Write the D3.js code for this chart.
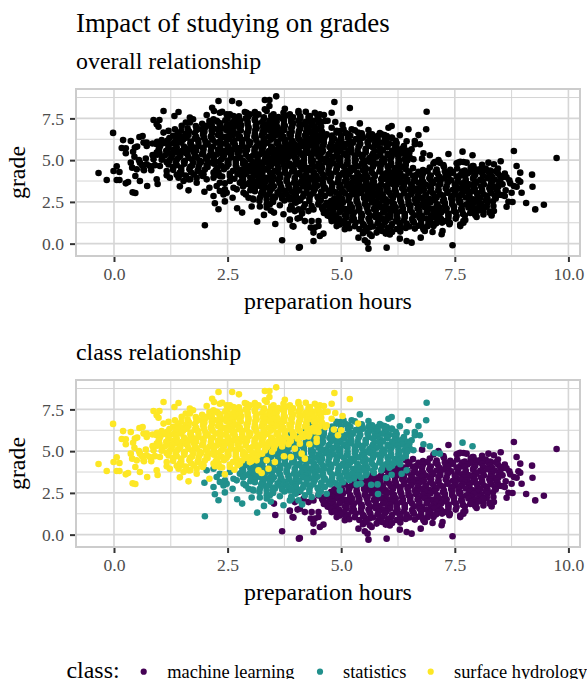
<!DOCTYPE html>
<html>
<head>
<meta charset="utf-8">
<script src="https://d3js.org/d3.v7.min.js"></script>
<style>
  html, body { margin: 0; padding: 0; background: #fff; overflow: hidden; }
  svg { display: block; font-family: "Liberation Serif", serif; }
</style>
</head>
<body>
<svg id="chart" width="587" height="679"></svg>
<script>
const classNames = ['machine learning', 'statistics', 'surface hydrology'];
const classColors = ['#440154', '#21908C', '#FDE725'];
const hourTicks = [0, 2.5, 5, 7.5, 10];
const gradeTicks = [0, 2.5, 5, 7.5];
const hourMinor = [1.25, 3.75, 6.25, 8.75];
const gradeMinor = [1.25, 3.75, 6.25, 8.75];

// [preparation hours, grade], dense middles estimated
const machineLearning = [
  [9.74,5.13],[8.8,5.55],[8.51,4.93],[8.24,4.85],[8.36,4.75],[8.86,4.65],[8.94,4.25],[9.2,4.13],[9.21,3.41],[9.07,2.43],[9.27,2.05],[9.46,2.33],
  [8.9,3.79],[8.8,3.45],[8.97,3.05],[8.75,3.05],[8.6,2.85],[8.77,2.49],[8.64,2.21],[8.35,2.25],[8.31,1.69],[8.13,1.75],[8.36,1.95],[7.36,5.37],
  [6.78,5.09],[7.89,4.65],[7.58,4.85],[7.69,4.89],[7.45,-0.1],[6.75,.36],[6.55,.06],[6.44,.16],[6.29,.3],[6,-.24],[5.6,-.3],[5.58,.06],[5.52,.2],
  [5.38,.36],[5.67,.46],[4.09,-.2],[4.39,.16],[4.61,.6],[4.53,.46],[4.39,.66],[4.33,.96],[4.5,1.35],[4.35,1.35],[7.21,.56],[7.23,.76],[7.01,.7],
  [6.84,.76],[3.93,1.06],[4.2,1.35],[3.7,.2],[4.07,-.24],[3.55,1.18],[3.52,1.86],[3.87,1.42],[3.95,1.02],[4.04,1.5],[4.06,2.55],[7.38,1.16],
  [7.69,1.25],[7.62,1.05],[7.98,1.6],[8.6,4.2],[8.7,3.8],[8.55,3.55],[8.62,3.2],[8.45,4.5],[8.1,4.72],[7.95,4.45],
  [4.42,.96],[4.5,1.06],[4.75,1.65],[4.79,1.35],[4.9,1.05],[5.08,.86],[4.97,1.15],[4.6,2.05],[4.17,2.15],[4.09,1.55],[4.28,1.95],[3.87,1.45],[3.98,1.95],[4.5,2.35],[4.39,2.05],[4.68,1.85],
  [6.07,.55],[6,.66],[5.63,.56],[5.52,.76],[6.29,.86],[6.44,1.06],[6.81,.86],[7.03,1.06],[7.1,1.25],[7.39,1.25],[7.69,1.35],[7.62,1.15],[7.94,1.85],[8.13,1.95],[8.27,1.85],
  [8.42,3.21],[8.53,2.91],[8.57,4],[8.64,3.97],[8.26,4.1],[8.05,4.45],[8.17,4.41],[8.28,4.37],[7.91,4.65],[7.76,4.85],[7.54,4.81],[7.39,4.31],[7.62,4.9],[7.14,5],[7.03,4.8],[7.25,4.7],
  [8.31,3.8],[8.35,3.41],[8.72,3.61],[8.86,3.41],[8.94,3.71],[8.57,2.91],[8.68,2.51],[8.2,2.21],[8.27,1.92],[7.95,1.72],[7.73,1.42],
  [6.42,4.45],[6.58,4.52],[6.8,4.4],[6.95,4.56],[7.1,4.44],[7.26,4.6],[7.4,4.42],[7.55,4.5],[7.72,4.38],[7.85,4.55],[8.02,4.4],[8.18,4.5],
  [6.5,4.32],[6.7,4.3],[6.9,4.34],[7.08,4.3],[7.28,4.33],[7.46,4.29],[7.66,4.32],[7.84,4.3],[8.04,4.34],[8.24,4.3],[8.4,4.33],
  [6.1,4.2],[6.3,4.12],[6.48,4.24],[6.65,4.1],[6.8,4.2],[6.97,4.08],[7.12,4.22],[7.3,4.14],[7.45,4.24],[7.62,4.1],[7.78,4.2],[7.95,4.12],[8.1,4.24],[8.28,4.14],[8.45,4.2],
  [6.22,4.04],[6.4,4.02],[6.58,4.06],[6.78,4],[6.96,4.05],[7.16,4.01],[7.36,4.06],[7.54,4.02],[7.72,4.05],[7.92,4],[8.12,4.06],[8.32,4.01],[8.5,4.04],
  [5.95,3.88],[6.14,3.82],[6.3,3.94],[6.46,3.84],[6.62,3.9],[6.78,3.8],[6.94,3.92],[7.1,3.84],[7.26,3.9],[7.42,3.8],[7.58,3.94],[7.74,3.84],[7.9,3.9],[8.06,3.82],[8.22,3.92],[8.38,3.84],
  [6.04,3.72],[6.24,3.75],[6.42,3.7],[6.6,3.74],[6.8,3.71],[6.98,3.76],[7.18,3.7],[7.36,3.74],[7.56,3.71],[7.74,3.75],[7.94,3.7],[8.12,3.74],[8.32,3.72],[8.5,3.74],
  [5.7,3.62],[5.88,3.56],[6.05,3.64],[6.22,3.54],[6.38,3.62],[6.54,3.56],[6.7,3.64],[6.86,3.54],[7.02,3.62],[7.18,3.56],[7.34,3.64],[7.5,3.54],[7.66,3.62],[7.82,3.56],[7.98,3.64],[8.14,3.54],[8.3,3.62],[8.46,3.52],
  [5.62,3.45],[5.8,3.42],[6,3.46],[6.18,3.43],[6.38,3.47],[6.56,3.42],[6.76,3.46],[6.94,3.43],[7.14,3.47],[7.32,3.42],[7.52,3.46],[7.7,3.43],[7.9,3.47],[8.08,3.42],[8.28,3.46],[8.46,3.42],
  [5.35,3.3],[5.52,3.24],[5.7,3.32],[5.86,3.24],[6.02,3.3],[6.18,3.22],[6.34,3.32],[6.5,3.26],[6.66,3.3],[6.82,3.22],[6.98,3.32],[7.14,3.24],[7.3,3.3],[7.46,3.22],[7.62,3.32],[7.78,3.26],[7.94,3.3],[8.1,3.22],[8.26,3.32],[8.42,3.24],
  [5.24,3.15],[5.44,3.13],[5.62,3.17],[5.82,3.13],[6,3.16],[6.2,3.12],[6.38,3.17],[6.58,3.14],[6.76,3.17],[6.96,3.12],[7.14,3.16],[7.34,3.13],[7.52,3.17],[7.72,3.13],[7.9,3.16],[8.1,3.12],[8.28,3.17],[8.44,3.13],
  [5.08,3.02],[5.25,2.96],[5.42,3.04],[5.58,2.94],[5.74,3.02],[5.9,2.96],[6.06,3.04],[6.22,2.94],[6.38,3.02],[6.54,2.96],[6.7,3.04],[6.86,2.94],[7.02,3.02],[7.18,2.96],[7.34,3.04],[7.5,2.94],[7.66,3.02],[7.82,2.96],[7.98,3.04],[8.14,2.94],[8.3,3.02],[8.45,2.92],
  [4.96,2.87],[5.16,2.85],[5.34,2.89],[5.54,2.84],[5.72,2.88],[5.92,2.85],[6.1,2.89],[6.3,2.84],[6.48,2.88],[6.68,2.85],[6.86,2.89],[7.06,2.84],[7.24,2.88],[7.44,2.85],[7.62,2.89],[7.82,2.84],[8,2.88],[8.2,2.85],[8.38,2.87],
  [4.85,2.72],[5.02,2.68],[5.18,2.76],[5.34,2.66],[5.5,2.74],[5.66,2.68],[5.82,2.76],[5.98,2.66],[6.14,2.74],[6.3,2.68],[6.46,2.76],[6.62,2.66],[6.78,2.74],[6.94,2.68],[7.1,2.76],[7.26,2.66],[7.42,2.74],[7.58,2.68],[7.74,2.76],[7.9,2.66],[8.06,2.74],[8.22,2.68],[8.4,2.7],
  [4.78,2.57],[4.96,2.55],[5.16,2.59],[5.34,2.54],[5.54,2.58],[5.72,2.55],[5.92,2.59],[6.1,2.54],[6.3,2.58],[6.48,2.55],[6.68,2.59],[6.86,2.54],[7.06,2.58],[7.24,2.55],[7.44,2.59],[7.62,2.54],[7.82,2.58],[8,2.55],[8.18,2.58],[8.34,2.54],
  [4.72,2.42],[4.88,2.38],[5.04,2.46],[5.2,2.36],[5.36,2.44],[5.52,2.38],[5.68,2.46],[5.84,2.36],[6,2.44],[6.16,2.38],[6.32,2.46],[6.48,2.36],[6.64,2.44],[6.8,2.38],[6.96,2.46],[7.12,2.36],[7.28,2.44],[7.44,2.38],[7.6,2.46],[7.76,2.36],[7.92,2.44],[8.08,2.38],[8.22,2.46],
  [4.64,2.27],[4.82,2.25],[5,2.29],[5.2,2.24],[5.38,2.28],[5.58,2.25],[5.76,2.29],[5.96,2.24],[6.14,2.28],[6.34,2.25],[6.52,2.29],[6.72,2.24],[6.9,2.28],[7.1,2.25],[7.28,2.29],[7.48,2.24],[7.66,2.28],[7.86,2.25],[8.04,2.28],[8.2,2.24],
  [4.58,2.14],[4.75,2.1],[4.92,2.18],[5.08,2.08],[5.24,2.16],[5.4,2.1],[5.56,2.18],[5.72,2.08],[5.88,2.16],[6.04,2.1],[6.2,2.18],[6.36,2.08],[6.52,2.16],[6.68,2.1],[6.84,2.18],[7,2.08],[7.16,2.16],[7.32,2.1],[7.48,2.18],[7.64,2.08],[7.8,2.16],[7.96,2.1],[8.12,2.14],
  [4.62,1.98],[4.82,1.96],[5,2],[5.2,1.95],[5.38,1.99],[5.58,1.96],[5.76,2],[5.96,1.95],[6.14,1.99],[6.34,1.96],[6.52,2],[6.72,1.95],[6.9,1.99],[7.1,1.96],[7.28,2],[7.48,1.95],[7.66,1.99],[7.86,1.96],[8.02,1.98],
  [4.62,1.84],[4.8,1.8],[4.96,1.88],[5.12,1.78],[5.28,1.86],[5.44,1.8],[5.6,1.88],[5.76,1.78],[5.92,1.86],[6.08,1.8],[6.24,1.88],[6.4,1.78],[6.56,1.86],[6.72,1.8],[6.88,1.88],[7.04,1.78],[7.2,1.86],[7.36,1.8],[7.52,1.88],[7.68,1.78],[7.84,1.84],
  [4.7,1.68],[4.88,1.66],[5.08,1.7],[5.26,1.65],[5.46,1.69],[5.64,1.66],[5.84,1.7],[6.02,1.65],[6.22,1.69],[6.4,1.66],[6.6,1.7],[6.78,1.65],[6.98,1.69],[7.16,1.66],[7.36,1.7],[7.54,1.65],[7.72,1.68],
  [4.78,1.54],[4.95,1.5],[5.12,1.58],[5.28,1.48],[5.44,1.56],[5.6,1.5],[5.76,1.58],[5.92,1.48],[6.08,1.56],[6.24,1.5],[6.4,1.58],[6.56,1.48],[6.72,1.56],[6.88,1.5],[7.04,1.58],[7.2,1.48],[7.36,1.54],[7.52,1.5],
  [4.86,1.38],[5.06,1.36],[5.24,1.4],[5.44,1.35],[5.62,1.39],[5.82,1.36],[6,1.4],[6.2,1.35],[6.38,1.39],[6.58,1.36],[6.76,1.4],[6.96,1.35],[7.14,1.39],[7.3,1.36],
  [4.98,1.24],[5.15,1.2],[5.32,1.26],[5.48,1.18],[5.64,1.26],[5.8,1.2],[5.96,1.26],[6.12,1.18],[6.28,1.24],[6.44,1.2],[6.6,1.26],[6.76,1.18],[6.92,1.24],[7.08,1.2],[7.22,1.26],
  [5.1,1.06],[5.3,1.04],[5.5,1.08],[5.7,1.03],[5.9,1.07],[6.1,1.04],[6.3,1.08],[6.5,1.03],[6.7,1.07],[6.9,1.04],
  [5.18,.92],[5.4,.88],[5.62,.96],[5.82,.86],[6.02,.94],[6.22,.88],[6.42,.94],[6.62,.9],[6.8,.98],
  [5.48,.62],[5.78,.66],[5.98,.6],[6.12,.7],[5.55,.78],[5.9,.76],[6.3,.72]
];

const statistics = [
  [1.99,3.11],[2,1.1],[2.19,2.85],[2.22,2.42],[2.44,2.53],[2.3,2.06],[2.61,2.75],[2.71,2.12],[2.82,1.86],[3.03,2.22],[3.15,1.32],[3.3,1.72],[3.45,1.98],
  [3.21,2.22],[3.73,1.76],[3.9,2.26],[3.36,2.36],[2.41,2.95],[2.48,3.05],[2.55,3.75],[2.19,3.95],[2.33,3.65],[6.88,7.9],[6.87,6.85],[6.48,6.85],[6.7,6.5],
  [6.29,6.49],[6.44,6.13],[6.62,6.15],[6.73,5.95],[6.04,6.94],[6.11,7.04],[5.41,7.2],[5.6,6.8],[7.67,5.51],[7.89,5.29],[6.81,5.41],[6.95,5.29],[7.06,4.89],
  [7.17,4.85],[6.59,5.05],[6.44,3.85],[6.33,3.65],[6.11,3.59],[5.99,3.39],[5.8,3.01],[5.66,2.99],[5.43,3.05],[5.34,3.01],[5.81,2.43],[4.97,2.65],[4.68,2.45],
  [4.35,2.25],[4.14,1.81],[4.2,2.35],[3.91,2.15],[3.05,2.7],[3.2,2.55],[3.5,2.5],[3.65,2.3],[4,2.45],[4.5,2.4],[2.9,2.95],[3,3.2],
  [5.05,6.85],[5.23,6.85],[5.16,6.54],[5.45,6.54],[5.63,6.35],[5.74,6.28],[5.89,6.54],[6,6.45],[6.11,6.35],[6.18,5.95],[6.22,5.75],[6.4,5.55],[6.51,5.15],[6.55,5.65],[6.62,5.95],[6.4,5.05],[6.29,4.65],[6.11,5.25],[4.97,6.74],[4.9,6.65],[4.35,6.65],[4.3,6.74],
  [2.04,3.85],[2.26,3.45],[2.33,3.15],[2.44,3.25],[2.63,3.35],[2.7,3.25],[2.85,3.05],[2.96,2.75],[3.07,2.65],[3.21,2.75],[3.36,2.65],[3.29,3.05],[3.43,2.36],[3.36,2.16],[3.54,2.75],[3.69,2.85],[3.87,2.65],[3.98,2.55],[3.87,2.05],[4.06,2.05],[2.77,3.65],
  [4.9,6.75],[5.1,6.62],[5.3,6.78],[5.45,6.6],[5.68,6.55],[5.85,6.62],[5.95,6.5],
  [4.6,6.45],[4.8,6.47],[5,6.44],[5.2,6.46],[5.4,6.43],[5.6,6.46],[5.8,6.44],[6,6.42],
  [4.45,6.3],[4.62,6.26],[4.8,6.34],[4.98,6.24],[5.15,6.32],[5.32,6.26],[5.48,6.34],[5.64,6.24],[5.8,6.3],[5.96,6.26],[6.12,6.32],
  [4.2,6.15],[4.4,6.13],[4.6,6.17],[4.8,6.13],[5,6.16],[5.2,6.12],[5.4,6.17],[5.6,6.14],[5.8,6.17],[6,6.12],[6.2,6.16],
  [3.9,6.02],[4.1,5.98],[4.28,6.06],[4.46,5.96],[4.62,6.04],[4.78,5.98],[4.94,6.06],[5.1,5.96],[5.26,6.04],[5.42,5.98],[5.58,6.06],[5.74,5.96],[5.9,6.04],[6.06,5.98],[6.22,6.02],
  [3.8,5.87],[4,5.85],[4.2,5.89],[4.4,5.85],[4.6,5.88],[4.8,5.84],[5,5.89],[5.2,5.86],[5.4,5.89],[5.6,5.84],[5.8,5.88],[6,5.85],[6.2,5.89],[6.38,5.85],
  [3.7,5.74],[3.9,5.7],[4.08,5.78],[4.26,5.68],[4.42,5.76],[4.58,5.7],[4.74,5.78],[4.9,5.68],[5.06,5.76],[5.22,5.7],[5.38,5.78],[5.54,5.68],[5.7,5.76],[5.86,5.7],[6.02,5.78],[6.18,5.68],[6.36,5.72],
  [3.64,5.58],[3.84,5.56],[4.02,5.6],[4.22,5.55],[4.4,5.59],[4.6,5.56],[4.78,5.6],[4.98,5.55],[5.16,5.59],[5.36,5.56],[5.54,5.6],[5.74,5.55],[5.92,5.59],[6.12,5.56],[6.3,5.6],[6.46,5.56],
  [3.55,5.44],[3.74,5.4],[3.92,5.48],[4.1,5.38],[4.26,5.46],[4.42,5.4],[4.58,5.48],[4.74,5.38],[4.9,5.46],[5.06,5.4],[5.22,5.48],[5.38,5.38],[5.54,5.46],[5.7,5.4],[5.86,5.48],[6.02,5.38],[6.18,5.46],[6.34,5.4],[6.5,5.44],
  [3.58,5.3],[3.78,5.28],[3.96,5.32],[4.16,5.27],[4.34,5.31],[4.54,5.28],[4.72,5.32],[4.92,5.27],[5.1,5.31],[5.3,5.28],[5.48,5.32],[5.68,5.27],[5.86,5.31],[6.06,5.28],[6.24,5.32],[6.44,5.27],
  [3.5,5.16],[3.68,5.12],[3.85,5.2],[4.02,5.1],[4.18,5.18],[4.34,5.12],[4.5,5.2],[4.66,5.1],[4.82,5.18],[4.98,5.12],[5.14,5.2],[5.3,5.1],[5.46,5.18],[5.62,5.12],[5.78,5.2],[5.94,5.1],[6.1,5.18],[6.26,5.12],[6.42,5.18],
  [3.42,5],[3.62,4.98],[3.8,5.02],[4,4.97],[4.18,5.01],[4.38,4.98],[4.56,5.02],[4.76,4.97],[4.94,5.01],[5.14,4.98],[5.32,5.02],[5.52,4.97],[5.7,5.01],[5.9,4.98],[6.08,5.02],[6.28,4.97],[6.46,5],
  [3.35,4.86],[3.52,4.82],[3.7,4.9],[3.86,4.8],[4.02,4.88],[4.18,4.82],[4.34,4.9],[4.5,4.8],[4.66,4.88],[4.82,4.82],[4.98,4.9],[5.14,4.8],[5.3,4.88],[5.46,4.82],[5.62,4.9],[5.78,4.8],[5.94,4.88],[6.1,4.82],[6.26,4.88],[6.42,4.82],
  [3.22,4.72],[3.42,4.7],[3.6,4.74],[3.8,4.69],[3.98,4.73],[4.18,4.7],[4.36,4.74],[4.56,4.69],[4.74,4.73],[4.94,4.7],[5.12,4.74],[5.32,4.69],[5.5,4.73],[5.7,4.7],[5.88,4.74],[6.08,4.69],[6.26,4.73],[6.42,4.7],
  [3.1,4.58],[3.28,4.54],[3.45,4.62],[3.62,4.52],[3.78,4.6],[3.94,4.54],[4.1,4.62],[4.26,4.52],[4.42,4.6],[4.58,4.54],[4.74,4.62],[4.9,4.52],[5.06,4.6],[5.22,4.54],[5.38,4.62],[5.54,4.52],[5.7,4.6],[5.86,4.54],[6.02,4.62],[6.18,4.52],[6.34,4.58],
  [3,4.42],[3.2,4.4],[3.38,4.44],[3.58,4.39],[3.76,4.43],[3.96,4.4],[4.14,4.44],[4.34,4.39],[4.52,4.43],[4.72,4.4],[4.9,4.44],[5.1,4.39],[5.28,4.43],[5.48,4.4],[5.66,4.44],[5.86,4.39],[6.04,4.43],[6.24,4.4],
  [2.92,4.28],[3.1,4.24],[3.27,4.32],[3.44,4.22],[3.6,4.3],[3.76,4.24],[3.92,4.32],[4.08,4.22],[4.24,4.3],[4.4,4.24],[4.56,4.32],[4.72,4.22],[4.88,4.3],[5.04,4.24],[5.2,4.32],[5.36,4.22],[5.52,4.3],[5.68,4.24],[5.84,4.32],[6,4.22],[6.16,4.28],[6.3,4.22],
  [2.88,4.14],[3.08,4.12],[3.26,4.16],[3.46,4.11],[3.64,4.15],[3.84,4.12],[4.02,4.16],[4.22,4.11],[4.4,4.15],[4.6,4.12],[4.78,4.16],[4.98,4.11],[5.16,4.15],[5.36,4.12],[5.54,4.16],[5.74,4.11],[5.92,4.15],[6.12,4.12],
  [2.82,4],[3,3.96],[3.17,4.04],[3.34,3.94],[3.5,4.02],[3.66,3.96],[3.82,4.04],[3.98,3.94],[4.14,4.02],[4.3,3.96],[4.46,4.04],[4.62,3.94],[4.78,4.02],[4.94,3.96],[5.1,4.04],[5.26,3.94],[5.42,4.02],[5.58,3.96],[5.74,4.04],[5.9,3.94],[6.06,4],
  [2.84,3.85],[3.04,3.83],[3.22,3.87],[3.42,3.82],[3.6,3.86],[3.8,3.83],[3.98,3.87],[4.18,3.82],[4.36,3.86],[4.56,3.83],[4.74,3.87],[4.94,3.82],[5.12,3.86],[5.32,3.83],[5.5,3.87],[5.7,3.82],[5.88,3.85],
  [2.8,3.7],[2.98,3.66],[3.15,3.74],[3.32,3.64],[3.48,3.72],[3.64,3.66],[3.8,3.74],[3.96,3.64],[4.12,3.72],[4.28,3.66],[4.44,3.74],[4.6,3.64],[4.76,3.72],[4.92,3.66],[5.08,3.74],[5.24,3.64],[5.4,3.72],[5.56,3.66],[5.72,3.7],
  [2.9,3.56],[3.08,3.54],[3.28,3.58],[3.46,3.53],[3.66,3.57],[3.84,3.54],[4.04,3.58],[4.22,3.53],[4.42,3.57],[4.6,3.54],[4.8,3.58],[4.98,3.53],[5.18,3.57],[5.36,3.54],[5.54,3.56],
  [2.84,3.42],[3.02,3.38],[3.2,3.46],[3.36,3.36],[3.52,3.44],[3.68,3.38],[3.84,3.46],[4,3.36],[4.16,3.44],[4.32,3.38],[4.48,3.46],[4.64,3.36],[4.8,3.44],[4.96,3.38],[5.12,3.46],[5.28,3.36],[5.44,3.42],
  [3.1,3.28],[3.28,3.26],[3.48,3.3],[3.66,3.25],[3.86,3.29],[4.04,3.26],[4.24,3.3],[4.42,3.25],[4.62,3.29],[4.8,3.26],[5,3.3],[5.18,3.26],
  [3.1,3.14],[3.26,3.1],[3.44,3.18],[3.6,3.08],[3.76,3.16],[3.92,3.1],[4.08,3.18],[4.24,3.08],[4.4,3.16],[4.56,3.1],[4.72,3.18],[4.88,3.08],[5.04,3.14],
  [3.24,3],[3.42,2.98],[3.62,3.02],[3.8,2.97],[4,3.01],[4.18,2.98],[4.38,3.02],[4.56,2.97],[4.76,3],[4.94,2.97],
  [3.35,2.86],[3.52,2.82],[3.68,2.9],[3.84,2.8],[4,2.88],[4.16,2.82],[4.32,2.9],[4.48,2.8],[4.64,2.86],
  [3.5,2.72],[3.7,2.7],[3.9,2.73],[4.1,2.69],[4.3,2.72],[4.5,2.7],
  [3.75,2.58],[4.1,2.62],[4.3,2.56],[4.55,2.6]
];

const surfaceHydrology = [
  [-.34,4.23],[-.16,3.81],[-.02,6.63],[.06,4.63],[-.01,4.35],[.12,4.29],[.06,3.81],[.12,3.81],[.26,3.61],[.31,3.69],[.41,3.07],[.47,3.03],[.57,3.75],[.47,4.05],
  [.73,3.45],[.94,3.85],[.96,3.57],[.2,6.2],[.37,6.15],[.17,5.73],[.26,5.71],[.26,5.41],[.46,5.75],[.51,5.81],[.56,6.39],[.63,6.45],[.65,6.05],[.72,6.05],
  [.37,4.85],[.4,4.55],[.45,5.2],[.55,5],[.62,4.7],[.7,5.1],[.5,4.45],[.66,4.4],[.72,4.75],[.82,4.4],[.9,4.7],[.85,5.3],[.95,6.1],[1.05,6.2],[.85,6],[.42,5.5],
  [2.3,8.54],[2.6,8.54],[2.75,8.4],[3.32,8.6],[3.42,8.6],[3.57,8.82],[3.42,8.24],[3.32,8.04],[3.76,8.08],[4.06,7.94],[1.09,7.94],[1.42,7.88],[1.33,7.64],
  [.87,7.4],[1,7.4],[.94,7.15],[.98,7],[1.67,7.55],[1.74,7.45],[1.58,7.25],[2.04,7.7],[2.16,8.14],[2.2,7.94],[2.38,7.9],[2.55,7.74],[2.88,7.88],[3.1,7.88],
  [4.85,8.48],[5.19,8.12],[4.79,7.84],[4.42,7.84],[4.22,7.9],[4.87,7.28],[5.03,7.1],[5.37,6.65],[5,6.25],[4.84,6.29],[4.93,5.95],[4.65,6.44],[4.2,4.55],[4.13,4.85],
  [4.46,5.55],[4.3,5.41],[2.1,3.35],[2.44,3.61],[2.65,3.89],[3.18,3.85],[3.25,3.69],[3.4,3.95],[1.64,3.19],[1.45,3.43],[1.82,3.65],[1.53,3.75],[1.16,4.09],[3.74,4.69],[3.89,4.65],[3.54,4.35],
  [2.33,7.84],[2.48,7.74],[2.63,7.64],[2.92,7.84],[2.99,7.74],[3.18,7.74],[3.36,7.94],[3.51,7.74],[3.73,7.84],[3.87,7.74],[4.06,7.84],[2.04,7.05],[1.93,6.85],[2.19,7.45],[2.26,7.35],[1.34,6.85],[1.49,7.05],[1.09,6.65],[1.2,6.75],[1.67,7.25],[1.82,6.95],
  [.94,5.95],[.72,5.85],[.94,5.45],[.87,5.05],[.79,4.65],[1.01,4.65],[.57,4.85],[.65,4.45],[1.16,4.35],[1.23,3.95],[1.42,3.95],[1.49,4.15],[1.64,3.85],[1.82,3.95],[1.97,4.15],[2.19,4.25],[2.33,4.05],[2.55,4.05],[2.77,4.25],[2.99,4.35],[3.14,4.45],[3.36,4.45],
  [4.53,7.74],[4.31,7.64],[4.64,7.34],[4.79,6.94],[4.68,6.54],[4.5,7.24],[4.42,6.85],[4.5,6.15],[4.31,6.25],[4.24,6.05],[4.17,5.85],[4.46,5.75],[4.09,5.45],[3.98,5.15],
  [2.75,7.62],[2.95,7.58],[3.12,7.66],[3.3,7.56],[3.46,7.64],[3.62,7.58],[3.78,7.66],[3.94,7.56],[4.1,7.62],[4.28,7.58],[4.48,7.62],[4.62,7.7],
  [2.5,7.48],[2.7,7.46],[2.9,7.5],[3.1,7.45],[3.3,7.49],[3.5,7.46],[3.7,7.5],[3.9,7.45],[4.1,7.49],[4.3,7.46],[4.5,7.48],
  [2.1,7.34],[2.28,7.3],[2.45,7.38],[2.62,7.28],[2.78,7.36],[2.94,7.3],[3.1,7.38],[3.26,7.28],[3.42,7.36],[3.58,7.3],[3.74,7.38],[3.9,7.28],[4.06,7.36],[4.22,7.3],[4.38,7.36],[4.54,7.3],[4.7,7.36],
  [1.94,7.18],[2.14,7.16],[2.34,7.2],[2.54,7.15],[2.74,7.19],[2.94,7.16],[3.14,7.2],[3.34,7.15],[3.54,7.19],[3.74,7.16],[3.94,7.2],[4.14,7.15],[4.34,7.19],[4.54,7.16],
  [1.8,7.04],[1.98,7],[2.15,7.08],[2.32,6.98],[2.48,7.06],[2.64,7],[2.8,7.08],[2.96,6.98],[3.12,7.06],[3.28,7],[3.44,7.08],[3.6,6.98],[3.76,7.06],[3.92,7],[4.08,7.08],[4.24,6.98],[4.4,7.04],[4.56,7],
  [1.62,6.9],[1.82,6.88],[2,6.92],[2.2,6.87],[2.38,6.91],[2.58,6.88],[2.76,6.92],[2.96,6.87],[3.14,6.91],[3.34,6.88],[3.52,6.92],[3.72,6.87],[3.9,6.91],[4.1,6.88],[4.28,6.9],[4.48,6.86],
  [1.48,6.76],[1.65,6.72],[1.82,6.8],[1.99,6.7],[2.15,6.78],[2.31,6.72],[2.47,6.8],[2.63,6.7],[2.79,6.78],[2.95,6.72],[3.11,6.8],[3.27,6.7],[3.43,6.78],[3.59,6.72],[3.75,6.8],[3.91,6.7],[4.07,6.76],[4.23,6.7],[4.4,6.76],[4.58,6.7],
  [1.4,6.6],[1.58,6.58],[1.78,6.62],[1.96,6.57],[2.16,6.61],[2.34,6.58],[2.54,6.62],[2.72,6.57],[2.92,6.61],[3.1,6.58],[3.3,6.62],[3.48,6.57],[3.68,6.61],[3.86,6.58],[4.06,6.6],[4.24,6.56],[4.44,6.6],
  [1.3,6.46],[1.47,6.42],[1.64,6.5],[1.81,6.4],[1.97,6.48],[2.13,6.42],[2.29,6.5],[2.45,6.4],[2.61,6.48],[2.77,6.42],[2.93,6.5],[3.09,6.4],[3.25,6.48],[3.41,6.42],[3.57,6.5],[3.73,6.4],[3.89,6.48],[4.05,6.42],[4.2,6.48],[4.38,6.4],[4.52,6.46],
  [1.22,6.32],[1.4,6.3],[1.6,6.34],[1.78,6.29],[1.98,6.33],[2.16,6.3],[2.36,6.34],[2.54,6.29],[2.74,6.33],[2.92,6.3],[3.12,6.34],[3.3,6.29],[3.5,6.33],[3.68,6.3],[3.88,6.34],[4.06,6.29],[4.26,6.32],[4.44,6.29],
  [1.18,6.18],[1.35,6.14],[1.52,6.22],[1.69,6.12],[1.85,6.2],[2.01,6.14],[2.17,6.22],[2.33,6.12],[2.49,6.2],[2.65,6.14],[2.81,6.22],[2.97,6.12],[3.13,6.2],[3.29,6.14],[3.45,6.22],[3.61,6.12],[3.77,6.2],[3.93,6.14],[4.09,6.2],[4.25,6.12],[4.42,6.18],
  [1.1,6.03],[1.3,6.01],[1.48,6.05],[1.68,6],[1.86,6.04],[2.06,6.01],[2.24,6.05],[2.44,6],[2.62,6.04],[2.82,6.01],[3,6.05],[3.2,6],[3.38,6.04],[3.58,6.01],[3.76,6.05],[3.96,6],[4.14,6.03],[4.3,6],
  [1.02,5.88],[1.2,5.84],[1.37,5.92],[1.54,5.82],[1.7,5.9],[1.86,5.84],[2.02,5.92],[2.18,5.82],[2.34,5.9],[2.5,5.84],[2.66,5.92],[2.82,5.82],[2.98,5.9],[3.14,5.84],[3.3,5.92],[3.46,5.82],[3.62,5.9],[3.78,5.84],[3.94,5.9],[4.1,5.82],[4.28,5.88],
  [1,5.74],[1.2,5.72],[1.38,5.76],[1.58,5.71],[1.76,5.75],[1.96,5.72],[2.14,5.76],[2.34,5.71],[2.52,5.75],[2.72,5.72],[2.9,5.76],[3.1,5.71],[3.28,5.75],[3.48,5.72],[3.66,5.76],[3.86,5.71],[4.04,5.74],
  [.98,5.6],[1.15,5.56],[1.32,5.64],[1.49,5.54],[1.65,5.62],[1.81,5.56],[1.97,5.64],[2.13,5.54],[2.29,5.62],[2.45,5.56],[2.61,5.64],[2.77,5.54],[2.93,5.62],[3.09,5.56],[3.25,5.64],[3.41,5.54],[3.57,5.62],[3.73,5.56],[3.89,5.6],
  [1,5.46],[1.2,5.44],[1.38,5.48],[1.58,5.43],[1.76,5.47],[1.96,5.44],[2.14,5.48],[2.34,5.43],[2.52,5.47],[2.72,5.44],[2.9,5.48],[3.1,5.43],[3.28,5.47],[3.48,5.44],[3.66,5.46],[3.84,5.42],
  [.95,5.32],[1.12,5.28],[1.29,5.36],[1.46,5.26],[1.62,5.34],[1.78,5.28],[1.94,5.36],[2.1,5.26],[2.26,5.34],[2.42,5.28],[2.58,5.36],[2.74,5.26],[2.9,5.34],[3.06,5.28],[3.22,5.36],[3.38,5.26],[3.54,5.32],[3.7,5.28],
  [1.06,5.17],[1.26,5.15],[1.44,5.19],[1.64,5.14],[1.82,5.18],[2.02,5.15],[2.2,5.19],[2.4,5.14],[2.58,5.18],[2.78,5.15],[2.96,5.19],[3.16,5.14],[3.34,5.17],[3.52,5.14],
  [1.05,5.02],[1.22,4.98],[1.39,5.06],[1.56,4.96],[1.72,5.04],[1.88,4.98],[2.04,5.06],[2.2,4.96],[2.36,5.04],[2.52,4.98],[2.68,5.06],[2.84,4.96],[3,5.04],[3.16,4.98],[3.32,5.04],[3.48,4.96],
  [1.16,4.88],[1.36,4.86],[1.54,4.9],[1.74,4.85],[1.92,4.89],[2.12,4.86],[2.3,4.9],[2.5,4.85],[2.68,4.89],[2.88,4.86],[3.06,4.89],[3.26,4.85],
  [1.2,4.74],[1.38,4.7],[1.55,4.78],[1.72,4.68],[1.88,4.76],[2.04,4.7],[2.2,4.78],[2.36,4.68],[2.52,4.76],[2.68,4.7],[2.84,4.78],[3,4.68],[3.16,4.74],
  [1.3,4.58],[1.48,4.56],[1.68,4.6],[1.86,4.55],[2.06,4.59],[2.28,4.56],[2.48,4.6],[2.7,4.55],[2.9,4.59],[3.08,4.56],
  [1.3,4.42],[1.48,4.38],[1.66,4.46],[1.84,4.36],[2,4.44],[2.24,4.4],[2.42,4.46],[2.62,4.36],[2.82,4.44],[3.02,4.4],
  [1.38,4.12],[1.58,4.08],[1.76,4.14],[1.95,4.05],[2.22,4.1],[2.38,4.02],[1.68,3.85],[1.45,4.26],[1.7,4.26],[1.92,4.22],[2.3,4.26],[2.55,4.2],[2.72,4.16]
];

const panels = [
  { top: 89, title: 'overall relationship', titleY: 69, colored: false },
  { top: 380, title: 'class relationship', titleY: 360, colored: true }
];
const panelW = 504, panelH = 167, panelLeft = 76;
const serif = '"Liberation Serif", serif';

const svg = d3.select('#chart');
svg.append('text').attr('x', 76).attr('y', 32).attr('font-size', 26.9).attr('fill', '#000')
  .text('Impact of studying on grades');

const groups = [machineLearning, statistics, surfaceHydrology];

panels.forEach(p => {
  const x = d3.scaleLinear().domain([-0.836, 10.255]).range([0, panelW]);
  const y = d3.scaleLinear().domain([-0.74, 9.26]).range([panelH, 0]);
  const g = svg.append('g').attr('transform', `translate(${panelLeft},${p.top})`);

  svg.append('text').attr('x', 76).attr('y', p.titleY).attr('font-size', 23.9).attr('fill', '#000').text(p.title);

  // grid
  const gridV = (vals, w, c) => g.append('g').selectAll('line').data(vals).join('line')
    .attr('x1', d => x(d)).attr('x2', d => x(d)).attr('y1', 0).attr('y2', panelH)
    .attr('stroke', c).attr('stroke-width', w);
  const gridH = (vals, w, c) => g.append('g').selectAll('line').data(vals).join('line')
    .attr('y1', d => y(d)).attr('y2', d => y(d)).attr('x1', 0).attr('x2', panelW)
    .attr('stroke', c).attr('stroke-width', w);
  gridV(hourMinor, 0.9, '#cfcfcf'); gridH(gradeMinor, 0.9, '#cfcfcf');
  gridV(hourTicks, 1.6, '#d6d6d6'); gridH(gradeTicks, 1.6, '#d6d6d6');

  // points
  groups.forEach((pts, i) => {
    g.append('g').selectAll('circle').data(pts).join('circle')
      .attr('cx', d => x(d[0])).attr('cy', d => y(d[1])).attr('r', 3.3)
      .attr('fill', p.colored ? classColors[i] : '#000');
  });

  g.append('rect').attr('width', panelW).attr('height', panelH)
    .attr('fill', 'none').attr('stroke', '#cccccc').attr('stroke-width', 2);

  // axes
  const xAxis = g.append('g').attr('transform', `translate(0,${panelH + 1})`)
    .call(d3.axisBottom(x).tickValues(hourTicks).tickFormat(d3.format('.1f')).tickSize(5).tickPadding(6));
  const yAxis = g.append('g').attr('transform', 'translate(-1,0)')
    .call(d3.axisLeft(y).tickValues(gradeTicks).tickFormat(d3.format('.1f')).tickSize(5).tickPadding(6));
  [xAxis, yAxis].forEach(a => {
    a.select('.domain').remove();
    a.selectAll('.tick line').attr('stroke', '#333').attr('stroke-width', 2);
    a.selectAll('.tick text').attr('fill', '#4d4d4d').attr('font-size', 17.6).attr('font-family', serif);
  });

  g.append('text').attr('x', panelW / 2).attr('y', panelH + 53).attr('text-anchor', 'middle')
    .attr('font-size', 23.9).attr('fill', '#000').text('preparation hours');
  g.append('text').attr('transform', `translate(-51,${panelH / 2}) rotate(-90)`).attr('text-anchor', 'middle')
    .attr('font-size', 23.9).attr('fill', '#000').text('grade');
});

// legend, runs off the bottom and right edge like the original
const legendDots = [143.7, 320, 430.7];
const legendText = [167.3, 343, 454];
svg.append('text').attr('x', 66.5).attr('y', 678).attr('font-size', 23.9).attr('fill', '#000').text('class:');
classNames.forEach((name, i) => {
  svg.append('circle').attr('cx', legendDots[i]).attr('cy', 671.7).attr('r', 3.1).attr('fill', classColors[i]);
  svg.append('text').attr('x', legendText[i]).attr('y', 678).attr('font-size', 18.4).attr('fill', '#000').text(name);
});
</script>
</body>
</html>
